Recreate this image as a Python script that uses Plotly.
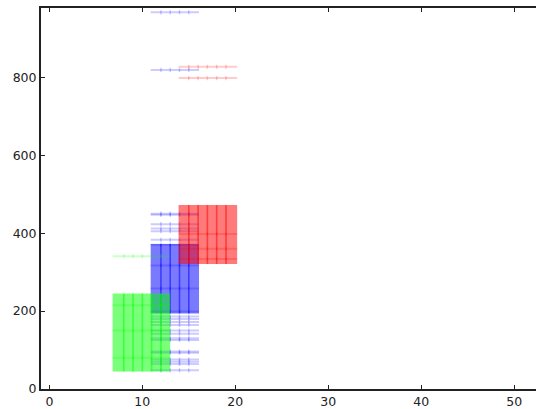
import plotly.graph_objects as go

# ---- data ----
blue_marker_x = [12, 13, 14, 15]
blue_x_span = [10.9, 16.1]
blue_band_y = [194, 372]
blue_stripe_y = [199, 258, 317, 370]
blue_line_y = [48, 64, 70, 76, 93, 96, 126, 130, 142, 150, 164, 172, 180, 186,
               383, 405, 412, 423, 447, 450, 819, 967]

red_marker_x = [15, 16, 17, 18, 19]
red_x_span = [13.9, 20.2]
red_band_y = [321, 472]
red_stripe_y = [334, 360, 398]
red_line_y = [798, 827]

green_marker_x = [8, 9, 10, 11, 12]
green_x_span = [6.8, 13.0]
green_band_y = [45, 245]
green_stripe_y = [80, 150, 215]
green_line_y = [341]

x_ticks = [0, 10, 20, 30, 40, 50]
y_ticks = [0, 200, 400, 600, 800]

fig = go.Figure()


def add_group(rgb, marker_x, x_span, band_y, stripe_y, line_y):
    r, g, b = rgb
    band_col = f"rgba({r},{g},{b},0.52)"
    line_col = f"rgba({r},{g},{b},0.2)"
    vert_col = f"rgba({r},{g},{b},0.5)"
    # dense band
    fig.add_trace(go.Scatter(
        x=[x_span[0], x_span[1], x_span[1], x_span[0], x_span[0]],
        y=[band_y[0], band_y[0], band_y[1], band_y[1], band_y[0]],
        mode="lines", fill="toself", fillcolor=band_col,
        line=dict(width=0), hoverinfo="skip", showlegend=False))
    # vertical marker stacks inside band
    vx, vy = [], []
    for mx in marker_x:
        vx += [mx, mx, None]
        vy += [band_y[0], band_y[1], None]
    fig.add_trace(go.Scatter(x=vx, y=vy, mode="lines",
                             line=dict(color=vert_col, width=1.6),
                             hoverinfo="skip", showlegend=False))
    # individual lines
    for yv in list(stripe_y) + list(line_y):
        fig.add_trace(go.Scatter(x=x_span, y=[yv, yv], mode="lines",
                                 line=dict(color=line_col, width=2),
                                 hoverinfo="skip", showlegend=False))
        fig.add_trace(go.Scatter(x=marker_x, y=[yv] * len(marker_x), mode="markers",
                                 marker=dict(symbol="line-ns", size=3,
                                             line=dict(color=line_col, width=1.5)),
                                 hoverinfo="skip", showlegend=False))


add_group((0, 0, 255), blue_marker_x, blue_x_span, blue_band_y, blue_stripe_y, blue_line_y)
add_group((255, 0, 0), red_marker_x, red_x_span, red_band_y, red_stripe_y, red_line_y)
add_group((0, 255, 0), green_marker_x, green_x_span, green_band_y, green_stripe_y, green_line_y)

axis_common = dict(showgrid=False, zeroline=False, showline=True, linecolor="#222",
                   linewidth=2, ticks="inside", ticklen=4, tickwidth=1, tickcolor="#222",
                   tickfont=dict(family="DejaVu Sans", size=12.5, color="#222"))

fig.update_xaxes(range=[-0.9, 52.35], tickvals=x_ticks, mirror="ticks", **axis_common)
fig.update_yaxes(range=[0, 978], tickvals=y_ticks, mirror=False, **axis_common)

fig.update_layout(width=536, height=409, margin=dict(l=41, r=0, t=8, b=15),
                  paper_bgcolor="white", plot_bgcolor="white", showlegend=False)

fig.write_html("out.html", config={"displayModeBar": False},
               post_script="document.body.style.margin='0px';document.body.style.overflow='hidden';")
